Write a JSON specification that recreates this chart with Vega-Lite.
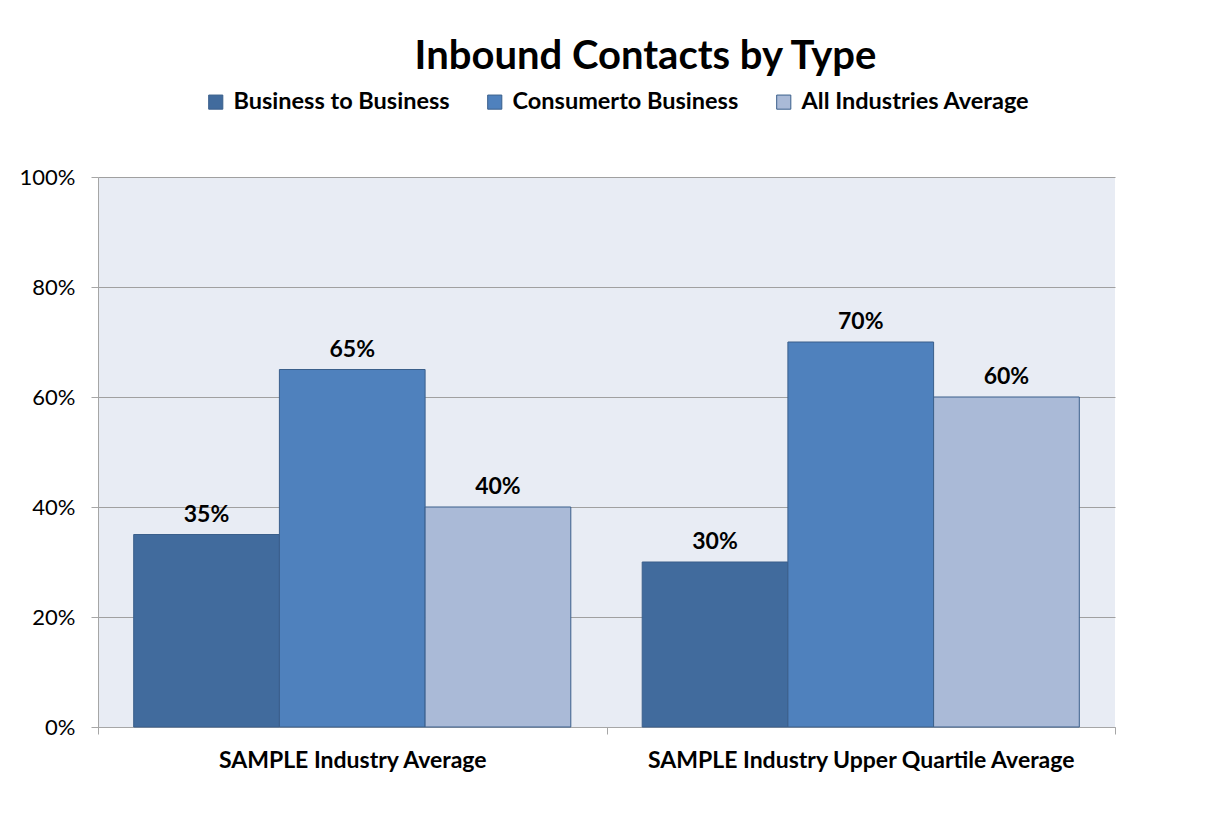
{
  "$schema": "https://vega.github.io/schema/vega-lite/v6.json",
  "width": 1017,
  "height": 550,
  "autosize": "none",
  "padding": {"left": 98, "top": 177, "right": 103, "bottom": 100},
  "background": "white",
  "title": {
    "text": "Inbound Contacts by Type",
    "font": "Lato",
    "fontSize": 40,
    "fontWeight": "bold",
    "color": "#000000",
    "anchor": "middle",
    "dx": 39,
    "offset": 13
  },
  "data": {
    "values": [
      {"group": "SAMPLE Industry Average", "type": "Business to Business", "value": 0.35},
      {"group": "SAMPLE Industry Average", "type": "Consumerto Business", "value": 0.65},
      {"group": "SAMPLE Industry Average", "type": "All Industries Average", "value": 0.40},
      {"group": "SAMPLE Industry Upper Quartile Average", "type": "Business to Business", "value": 0.30},
      {"group": "SAMPLE Industry Upper Quartile Average", "type": "Consumerto Business", "value": 0.70},
      {"group": "SAMPLE Industry Upper Quartile Average", "type": "All Industries Average", "value": 0.60}
    ]
  },
  "encoding": {
    "x": {
      "field": "group",
      "type": "nominal",
      "sort": null,
      "scale": {"paddingInner": 0, "paddingOuter": 0},
      "axis": {
        "title": null,
        "labelAngle": 0,
        "labelFont": "Lato",
        "labelFontSize": 23,
        "labelFontWeight": "bold",
        "labelColor": "#000000",
        "labelPadding": 15,
        "labelLimit": 600,
        "domainColor": "#A6A6A6",
        "tickColor": "#A6A6A6",
        "tickBand": "extent",
        "tickSize": 7
      }
    },
    "xOffset": {
      "field": "type",
      "type": "nominal",
      "sort": ["Business to Business", "Consumerto Business", "All Industries Average"],
      "scale": {"paddingInner": 0, "paddingOuter": 0.245}
    },
    "y": {
      "field": "value",
      "type": "quantitative",
      "scale": {"domain": [0, 1], "nice": false},
      "axis": {
        "title": null,
        "format": ".0%",
        "values": [0, 0.2, 0.4, 0.6, 0.8, 1],
        "labelFont": "Lato",
        "labelFontSize": 22,
        "labelColor": "#000000",
        "labelPadding": 16,
        "tickSize": 7,
        "tickColor": "#A6A6A6",
        "domainColor": "#A6A6A6",
        "gridColor": "#A0A0A0",
        "gridWidth": 1
      }
    }
  },
  "layer": [
    {
      "mark": {"type": "bar", "stroke": "#3A5F8B", "strokeWidth": 1},
      "encoding": {
        "color": {
          "field": "type",
          "type": "nominal",
          "sort": ["Business to Business", "Consumerto Business", "All Industries Average"],
          "scale": {
            "domain": ["Business to Business", "Consumerto Business", "All Industries Average"],
            "range": ["#416B9D", "#4F81BD", "#AABAD7"]
          },
          "legend": {
            "title": null,
            "orient": "none",
            "direction": "horizontal",
            "legendX": 106,
            "legendY": -87,
            "symbolType": "square",
            "symbolSize": 200,
            "symbolStrokeColor": "#3A5F8B",
            "symbolStrokeWidth": 1,
            "labelFont": "Lato",
            "labelFontSize": 23.5,
            "labelFontWeight": "bold",
            "labelColor": "#000000",
            "labelLimit": 400,
            "columnPadding": 33,
            "labelOffset": 6
          }
        }
      }
    },
    {
      "mark": {
        "type": "text",
        "baseline": "bottom",
        "dy": -8,
        "font": "Lato",
        "fontSize": 23,
        "fontWeight": "bold",
        "color": "#000000"
      },
      "encoding": {
        "text": {"field": "value", "type": "quantitative", "format": ".0%"}
      }
    }
  ],
  "config": {
    "view": {"fill": "#E8ECF4", "stroke": null}
  }
}
